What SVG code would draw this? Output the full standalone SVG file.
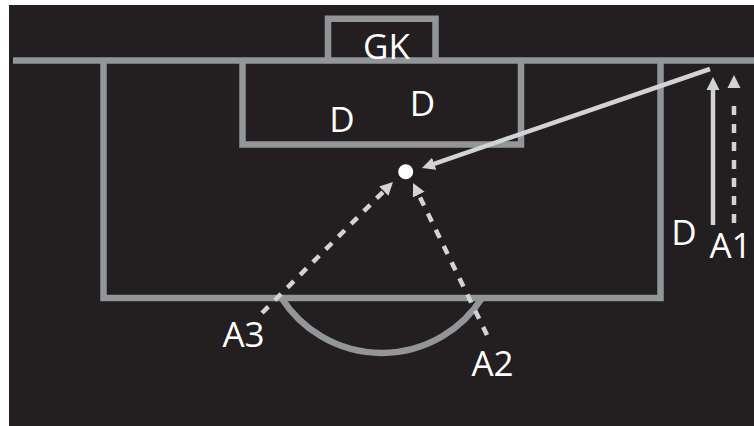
<svg xmlns="http://www.w3.org/2000/svg" width="754" height="426" viewBox="0 0 754 426">
<style>
.pitch{fill:none;stroke:#939598;stroke-width:6.5}
.arr{fill:none;stroke:#D1D3D4;stroke-width:4.5}
.dash{stroke-dasharray:9 9}
.lbl{font-family:"Open Sans","Noto Sans",sans-serif;font-size:35px;fill:#FFFFFF;text-anchor:middle}
</style>
<defs>
<marker id="ah" markerUnits="userSpaceOnUse" viewBox="0 -7 13 14" refX="1" refY="0" markerWidth="13" markerHeight="14" orient="auto">
<path d="M0,-6.5 L13,0 L0,6.5 Z" fill="#D1D3D4"/>
</marker>
</defs>
<rect x="0" y="0" width="754" height="426" fill="#FFFFFF"/>
<rect x="9" y="5" width="745" height="421" fill="#231F20"/>
<g id="pitch">
<path class="pitch" d="M328,60.5 V18.7 H435.5 V60.5"/>
<path class="pitch" d="M13,60.5 H754"/>
<path class="pitch" d="M103.5,60.5 V298 H660.5 V60.5"/>
<path class="pitch" d="M242.5,60.5 V144.5 H521 V60.5"/>
<path class="pitch" d="M281.5,298 A119,119 0 0 0 482,298"/>
</g>
<g id="ball"><circle cx="405.7" cy="171.7" r="7.5" fill="#FFFFFF"/></g>
<g id="connectors">
<path class="arr" d="M710,69 L433.3,164.1" marker-end="url(#ah)"/>
<path class="arr" d="M713,225 V89" marker-end="url(#ah)"/>
<path class="arr" d="M734,223 V87" stroke-dasharray="9 9 9 9 9 9 9 9 9 9 9 9 9 40" marker-end="url(#ah)"/>
<path class="arr dash" d="M262,313 L384.5,190.5" marker-end="url(#ah)"/>
<path class="arr dash" d="M487,335 L418.3,193.8" marker-end="url(#ah)"/>
</g>
<g id="gk"><text class="lbl" x="386.5" y="59">GK</text></g>
<g id="d1"><text class="lbl" x="342" y="132">D</text></g>
<g id="d2"><text class="lbl" x="422.5" y="116">D</text></g>
<g id="d3"><text class="lbl" x="684" y="245">D</text></g>
<g id="a1"><text class="lbl" x="730.5" y="258">A1</text></g>
<g id="a3"><text class="lbl" x="243.5" y="347">A3</text></g>
<g id="a2"><text class="lbl" x="492.5" y="376">A2</text></g>
</svg>
